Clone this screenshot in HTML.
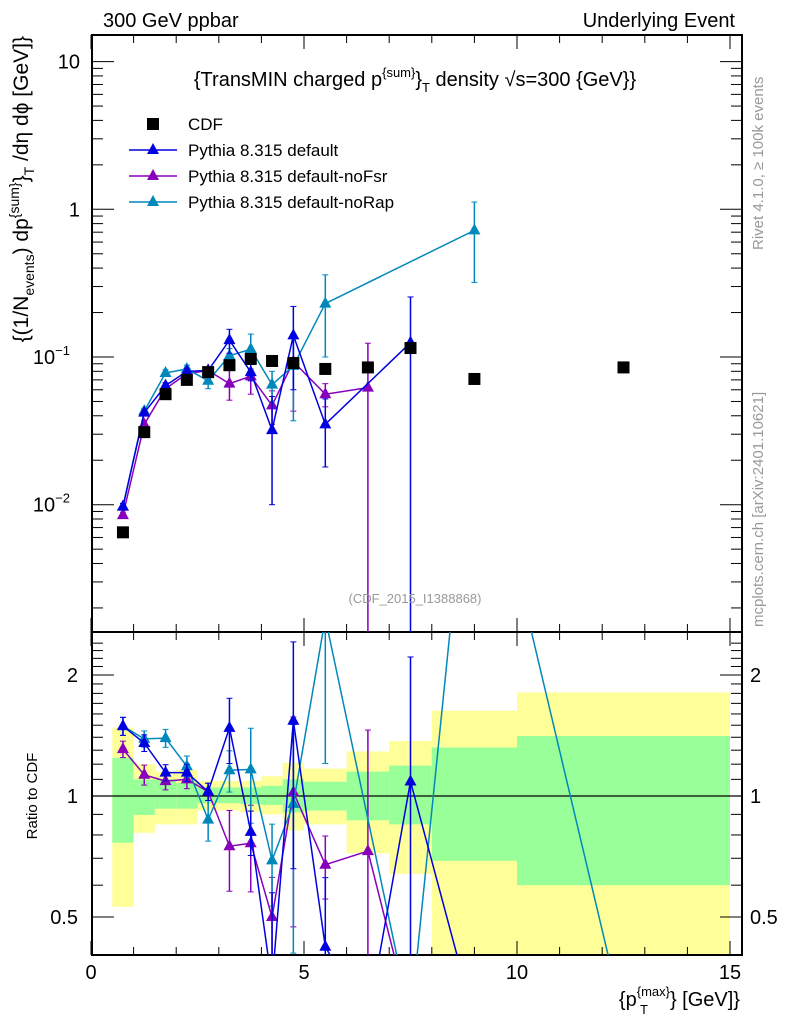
<!DOCTYPE html>
<html><head><meta charset="utf-8"><style>
html,body{margin:0;background:#fff;width:786px;height:1024px;overflow:hidden}
svg{display:block;font-family:"Liberation Sans",sans-serif}
</style></head><body>
<svg id="c" width="786" height="1024" viewBox="0 0 786 1024">
<defs>
<clipPath id="cm"><rect x="92" y="35" width="650" height="597"/></clipPath>
<clipPath id="cr"><rect x="92" y="632" width="650" height="323"/></clipPath>
</defs>
<g id="g"></g>
<text x="103" y="27" font-size="20">300 GeV ppbar</text>
<text x="735" y="27" font-size="20" text-anchor="end">Underlying Event</text>
<text x="415" y="86" font-size="20" text-anchor="middle">{TransMIN charged p<tspan dy="-9" font-size="13">{sum}</tspan><tspan dy="9">}</tspan><tspan dy="6" font-size="13">T</tspan><tspan dy="-6" font-size="20"> density √s=300 {GeV}}</tspan></text>
<text x="415" y="603" font-size="13" fill="#999" text-anchor="middle">(CDF_2015_I1388868)</text>
<text transform="translate(763,250) rotate(-90)" font-size="15" fill="#999">Rivet 4.1.0, ≥ 100k events</text>
<text transform="translate(763,627) rotate(-90)" font-size="15" fill="#999">mcplots.cern.ch [arXiv:2401.10621]</text>
<text transform="translate(28,36) rotate(-90)" font-size="21" text-anchor="end">{(1/N<tspan font-size="14" dy="6">events</tspan><tspan dy="-6">) dp</tspan><tspan font-size="14" dy="-9">{sum}</tspan><tspan dy="9">}</tspan><tspan font-size="14" dy="6">T</tspan><tspan dy="-6"> /dη  dϕ [GeV]}</tspan></text>
<text transform="translate(37,796) rotate(-90)" font-size="15" text-anchor="middle">Ratio to CDF</text>
<text x="740" y="1006" font-size="20" text-anchor="end">{p<tspan font-size="13" dy="-10">{max}</tspan><tspan font-size="13" dx="-30" dy="18">T</tspan><tspan dx="22" dy="-8">} [GeV]}</tspan></text>
</svg>
<script>
const cdfX=[0.75,1.25,1.75,2.25,2.75,3.25,3.75,4.25,4.75,5.5,6.5,7.5,9,12.5];
const cdfY=[0.0065,0.031,0.056,0.070,0.079,0.088,0.097,0.094,0.091,0.083,0.085,0.115,0.071,0.085];
const binEdges=[0.5,1,1.5,2,2.5,3,3.5,4,4.5,5,6,7,8,10,15];
const yelHi=[1.48,1.2,1.15,1.16,1.09,1.09,1.09,1.12,1.21,1.17,1.29,1.37,1.63,1.81];
const yelLo=[0.53,0.81,0.85,0.85,0.92,0.92,0.91,0.90,0.82,0.85,0.72,0.64,0.2,0.2];
const grnHi=[1.245,1.10,1.10,1.077,1.05,1.05,1.05,1.06,1.10,1.085,1.15,1.19,1.32,1.41];
const grnLo=[0.765,0.897,0.93,0.93,0.96,0.96,0.955,0.95,0.91,0.92,0.87,0.85,0.69,0.60];
const defX=[0.75,1.25,1.75,2.25,2.75,3.25,3.75,4.25,4.75,5.5,6.5,7.5,9];
const defY=[0.0097,0.042,0.064,0.080,0.081,0.13,0.079,0.032,0.14,0.035,0,0.125,0];
const defE=[0.0005,0.002,0.003,0.004,0.004,0.024,0.01,0.022,0.08,0.017,0,0.13,0];
const fsrX=[0.75,1.25,1.75,2.25,2.75,3.25,3.75,4.25,4.75,5.5,6.5,7.5];
const fsrY=[0.0085,0.035,0.061,0.077,0.081,0.066,0.074,0.047,0.093,0.056,0.062,0];
const fsrE=[0.0004,0.002,0.003,0.004,0.004,0.015,0.018,0.012,0.05,0.01,0.062,0];
const rapX=[0.75,1.25,1.75,2.25,2.75,3.25,3.75,4.25,4.75,5.5,7.5,9,12.5];
const rapY=[0.0097,0.043,0.078,0.083,0.069,0.102,0.113,0.065,0.087,0.23,0,0.72,0];
const rapE=[0.0005,0.002,0.004,0.005,0.008,0.012,0.03,0.015,0.05,0.13,0,0.4,0];

const NS="http://www.w3.org/2000/svg",G=document.getElementById('g');
const L=92,R=742,MT=35,MB=632,RB=955;
const xs=v=>91+v*42.6;
const ym=v=>357-(Math.log10(v)+1)*147.7;
const yr=v=>v>0?796-Math.log10(v)*402:1020;
function el(t,a,p){const e=document.createElementNS(NS,t);for(const k in a)e.setAttribute(k,a[k]);(p||G).appendChild(e);return e;}
for(let i=0;i<binEdges.length-1;i++){
 const x0=xs(binEdges[i]),x1=xs(binEdges[i+1]);
 const y=el('rect',{x:x0,y:yr(yelHi[i]),width:x1-x0,height:Math.min(yr(yelLo[i]),RB)-yr(yelHi[i]),fill:'#ffff99','clip-path':'url(#cr)'});
 
 
 const g2=el('rect',{x:x0,y:yr(grnHi[i]),width:x1-x0,height:yr(grnLo[i])-yr(grnHi[i]),fill:'#99ff99','clip-path':'url(#cr)'});
 
 
}
el('line',{x1:L,x2:R,y1:yr(1),y2:yr(1),stroke:'#000','stroke-width':1.2});
const f1=el('rect',{x:L,y:MT,width:R-L,height:MB-MT,fill:'none',stroke:'#000','stroke-width':2});


const f2=el('rect',{x:L,y:MB,width:R-L,height:RB-MB,fill:'none',stroke:'#000','stroke-width':2});


for(let v=0;v<=15.3;v+=0.5){const maj=Math.abs(v%5)<1e-6,mid=Math.abs(v%1)<1e-6;const h=maj?14:(mid?8:0);if(!h)continue;
 for(const [yy,d] of [[MT,1],[MB,-1],[MB,1],[RB,-1]]) el('line',{x1:xs(v),x2:xs(v),y1:yy,y2:yy+d*h,stroke:'#000','stroke-width':1});}
[0,5,10,15].forEach(v=>{const t=el('text',{x:xs(v),y:979,'font-size':20,'text-anchor':'middle'});t.textContent=v;
 
 });
for(let d=-3;d<=1;d++)for(let m=1;m<10;m++){const v=m*Math.pow(10,d);const y=ym(v);if(y<MT||y>MB)continue;const h=m==1?22:11;
 el('line',{x1:L,x2:L+h,y1:y,y2:y,stroke:'#000'});el('line',{x1:R,x2:R-h,y1:y,y2:y,stroke:'#000'});}
[[10,"10",""],[1,"1",""],[0.1,"10","−1"],[0.01,"10","−2"]].forEach(([v,b,e])=>{const t=el('text',{x:e?70:80,y:ym(v)+7,'font-size':20,'text-anchor':'end'});t.textContent=b;
 if(e){const s=el('tspan',{'font-size':13,dy:-9},t);s.textContent=e;}
 
 });
for(let v=0.4;v<=2.5;v+=0.1){const y=yr(v);if(y<MB||y>RB)continue;const maj=[0.5,1,2].some(q=>Math.abs(q-v)<1e-6);const h=maj?22:11;
 el('line',{x1:L,x2:L+h,y1:y,y2:y,stroke:'#000'});el('line',{x1:R,x2:R-h,y1:y,y2:y,stroke:'#000'});}
[2,1,0.5].forEach(v=>{for(const [x,a] of [[78,'end'],[750,'start']]){const t=el('text',{x:x,y:yr(v)+7,'font-size':20,'text-anchor':a});t.textContent=v;
 
 }});
function tri(x,y,c,p){el('path',{d:`M${x},${y-7}L${x+6},${y+4}L${x-6},${y+4}Z`,fill:c},p);}
function series(X,Y,E,c,name){
 const gm=el('g',{'clip-path':'url(#cm)'});
 const gr=el('g',{'clip-path':'url(#cr)'});
 const cy=X.map(x=>cdfY[cdfX.indexOf(x)]);
 const nz=X.map((x,i)=>i).filter(i=>Y[i]>0);
 el('polyline',{points:nz.map(i=>xs(X[i])+','+ym(Y[i])).join(' '),fill:'none',stroke:c,'stroke-width':1.5},gm);
 el('polyline',{points:X.map((x,i)=>xs(x)+','+yr(Y[i]/cy[i])).join(' '),fill:'none',stroke:c,'stroke-width':1.5},gr);
 nz.forEach(i=>{const x=X[i],px=xs(x);
  const lo=Math.max(Y[i]-E[i],1e-5),hi=Y[i]+E[i];
  el('line',{x1:px,x2:px,y1:ym(lo),y2:ym(hi),stroke:c,'stroke-width':1.5},gm);
  el('line',{x1:px-3,x2:px+3,y1:ym(hi),y2:ym(hi),stroke:c},gm);
  el('line',{x1:px-3,x2:px+3,y1:ym(lo),y2:ym(lo),stroke:c},gm);
  tri(px,ym(Y[i]),c,gm);
  const rl=lo/cy[i],rh=hi/cy[i];
  el('line',{x1:px,x2:px,y1:yr(rl),y2:yr(rh),stroke:c,'stroke-width':1.5},gr);
  el('line',{x1:px-3,x2:px+3,y1:yr(rh),y2:yr(rh),stroke:c},gr);
  el('line',{x1:px-3,x2:px+3,y1:yr(rl),y2:yr(rl),stroke:c},gr);
  tri(px,yr(Y[i]/cy[i]),c,gr);});
}
series(fsrX,fsrY,fsrE,'#8800bb','pythia-nofsr');
series(rapX,rapY,rapE,'#0088bb','pythia-norap');
series(defX,defY,defE,'#0000e0','pythia-default');
cdfX.forEach((x,i)=>{const r=el('rect',{x:xs(x)-6,y:ym(cdfY[i])-6,width:12,height:12,fill:'#000'});
 
 });
const leg=[['CDF','#000',true],['Pythia 8.315 default','#0000e0'],['Pythia 8.315 default-noFsr','#8800bb'],['Pythia 8.315 default-noRap','#0088bb']];
leg.forEach(([t,c,sq],i)=>{const y=124+i*26;const g=el('g',{});
 
 
 if(sq)el('rect',{x:147,y:y-6,width:12,height:12,fill:c},g);
 else{el('line',{x1:129,x2:177,y1:y,y2:y,stroke:c,'stroke-width':1.5},g);tri(153,y,c,g);}
 const tx=el('text',{x:188,y:y+6,'font-size':17},g);tx.textContent=t;});
</script>
</body></html>
